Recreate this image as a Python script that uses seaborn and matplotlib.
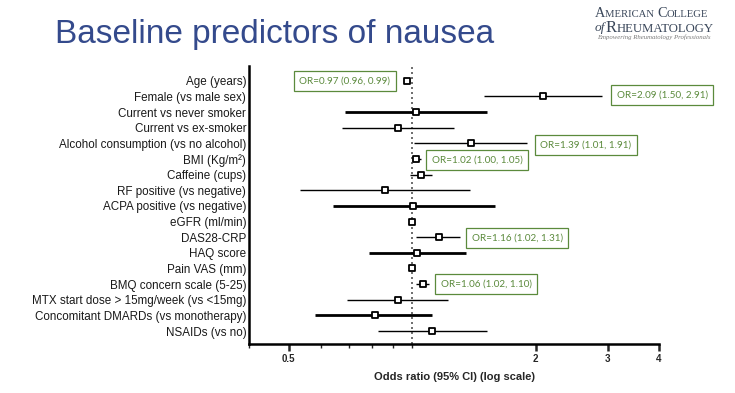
import numpy as np
import pandas as pd
import matplotlib
matplotlib.use("Agg")
import matplotlib.pyplot as plt
from matplotlib.ticker import FixedLocator, NullFormatter, FixedFormatter
import seaborn as sns

# ---------------- data ----------------
predictors = [
    "Age (years)",
    "Female (vs male sex)",
    "Current vs never smoker",
    "Current vs ex-smoker",
    "Alcohol consumption (vs no alcohol)",
    "BMI (Kg/m²)",
    "Caffeine (cups)",
    "RF positive (vs negative)",
    "ACPA positive (vs negative)",
    "eGFR (ml/min)",
    "DAS28-CRP",
    "HAQ score",
    "Pain VAS (mm)",
    "BMQ concern scale (5-25)",
    "MTX start dose > 15mg/week (vs <15mg)",
    "Concomitant DMARDs (vs monotherapy)",
    "NSAIDs (vs no)",
]
odds_ratio = [0.97, 2.09, 1.02, 0.925, 1.39, 1.02, 1.05, 0.857, 1.007, 1.00,
              1.16, 1.03, 1.00, 1.06, 0.921, 0.81, 1.12]
ci_low = [0.96, 1.50, 0.687, 0.675, 1.01, 1.00, 0.99, 0.532, 0.64, 0.995,
          1.02, 0.786, 0.995, 1.02, 0.694, 0.579, 0.824]
ci_high = [0.99, 2.91, 1.52, 1.265, 1.91, 1.05, 1.116, 1.38, 1.59, 1.005,
           1.31, 1.35, 1.005, 1.10, 1.22, 1.12, 1.52]
annot_rows = ["Age (years)", "Female (vs male sex)", "Alcohol consumption (vs no alcohol)",
              "BMI (Kg/m²)", "DAS28-CRP", "BMQ concern scale (5-25)"]
annot_texts = ["OR=0.97 (0.96, 0.99)", "OR=2.09 (1.50, 2.91)", "OR=1.39 (1.01, 1.91)",
               "OR=1.02 (1.00, 1.05)", "OR=1.16 (1.02, 1.31)", "OR=1.06 (1.02, 1.10)"]
x_tick_values = [0.5, 2, 3, 4]
x_tick_labels = ["0.5", "2", "3", "4"]
x_minor_values = [0.4, 0.6, 0.7, 0.8, 0.9, 1.0]

df = pd.DataFrame({"predictor": predictors, "OR": odds_ratio,
                   "lo": ci_low, "hi": ci_high})
df["row"] = np.arange(len(df))

# ---------------- style ----------------
sns.set_theme(style="white")
plt.rcParams["font.family"] = ["Liberation Sans", "DejaVu Sans"]

bold_rows = {"Current vs never smoker", "ACPA positive (vs negative)",
             "HAQ score", "Concomitant DMARDs (vs monotherapy)"}
# box left edge (OR units) and vertical nudge (rows) for annotations
annot_pos = {
    "Age (years)": (0.514, 0.0),
    "Female (vs male sex)": (3.06, -0.1),
    "Alcohol consumption (vs no alcohol)": (1.99, 0.1),
    "BMI (Kg/m²)": (1.081, 0.05),
    "DAS28-CRP": (1.353, 0.05),
    "BMQ concern scale (5-25)": (1.137, 0.0),
}
green = "#5B8A3C"
title_blue = "#344A8C"

fig = plt.figure(figsize=(7.35, 3.93), dpi=100)
ax = fig.add_axes([249 / 735, 1 - 344 / 393, 410 / 735, (344 - 66) / 393])

ax.set_xscale("log")
ax.set_xlim(0.4, 4.0)
ax.set_ylim(len(df) - 1 + 0.83, -0.95)

# reference line
ax.axvline(1.0, color="#555555", lw=1.2, ls=(0, (1.2, 1.8)), zorder=1)

# CI lines
for _, r in df.iterrows():
    lw = 2.0 if r["predictor"] in bold_rows else 1.0
    ax.hlines(r["row"], r["lo"], r["hi"], color="black", lw=lw, zorder=2)

sns.scatterplot(data=df, x="OR", y="row", marker="s", s=22, color="white",
                edgecolor="black", linewidth=1.3, zorder=3, ax=ax, legend=False)

# annotations
for name, txt in zip(annot_rows, annot_texts):
    row = predictors.index(name)
    xv, dy = annot_pos[name]
    ax.annotate(txt, xy=(xv, row + dy), xytext=(4.0, 0), textcoords="offset points",
                ha="left", va="center", fontsize=7.1, color=green,
                family=["Lato", "DejaVu Sans"],
                bbox=dict(boxstyle="square,pad=0.55", fc="white", ec=green, lw=0.9),
                zorder=5)

# axes styling
ax.set_yticks(df["row"])
ax.set_yticklabels(df["predictor"], fontsize=8.4, color="#1a1a1a")
ax.tick_params(axis="y", length=0, pad=2)
ax.xaxis.set_major_locator(FixedLocator(x_tick_values))
ax.xaxis.set_major_formatter(FixedFormatter(x_tick_labels))
ax.xaxis.set_minor_locator(FixedLocator(x_minor_values))
ax.xaxis.set_minor_formatter(NullFormatter())
ax.tick_params(axis="x", which="major", length=5, width=1.8, direction="out",
               labelsize=7, pad=2, bottom=True)
ax.tick_params(axis="x", which="minor", length=3, width=1.0, direction="out", bottom=True)
for lbl in ax.get_xticklabels():
    lbl.set_fontweight("bold")
ax.set_xlabel("Odds ratio (95% CI) (log scale)", fontsize=8, fontweight="bold",
              labelpad=6)
ax.set_ylabel("")
for side in ["top", "right"]:
    ax.spines[side].set_visible(False)
ax.spines["left"].set_linewidth(1.8)
ax.spines["bottom"].set_linewidth(1.8)
ax.spines["left"].set_color("black")
ax.spines["bottom"].set_color("black")

# title
fig.text(55 / 735, 1 - 43 / 393, "Baseline predictors of nausea", fontsize=24,
         color=title_blue, ha="left", va="baseline")

# logo (small caps built from pieces placed side by side)
logo_c = "#3A475A"
serif = ["Liberation Serif", "DejaVu Serif"]
renderer = fig.canvas.get_renderer()
W, H = fig.bbox.width, fig.bbox.height


def small_caps(pieces, x_px, base_px):
    x = x_px
    for txt, size, style in pieces:
        t = fig.text(x / W, 1 - base_px / H, txt, fontsize=size, style=style,
                     family=serif, color=logo_c, ha="left", va="baseline")
        x += t.get_window_extent(renderer=renderer).width


small_caps([("A", 10.3, "normal"), ("MERICAN ", 7.7, "normal"),
            ("C", 10.3, "normal"), ("OLLEGE", 7.7, "normal")], 595, 17)
small_caps([("of", 9.6, "italic"), ("R", 12.0, "normal"),
            ("HEUMATOLOGY", 9.2, "normal")], 595, 31.5)
fig.text(597 / W, 1 - 39 / H, "Empowering Rheumatology Professionals", fontsize=4.9,
         style="italic", family=serif, color="#7a7a7a", ha="left", va="baseline")

fig.savefig("out.png", dpi=100)
